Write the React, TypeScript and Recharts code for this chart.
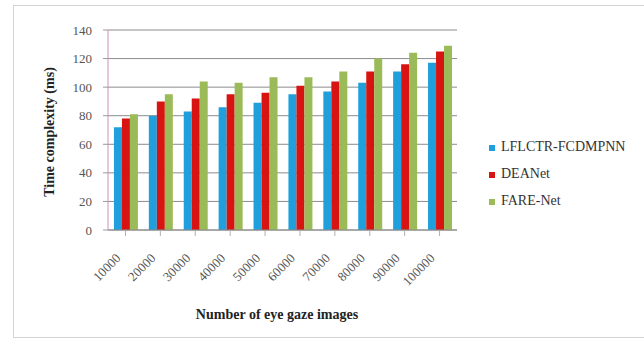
import React from 'react';
import { BarChart, Bar, XAxis, YAxis, CartesianGrid } from 'recharts';

// Number of eye gaze images (categories)
const imageCounts = ['10000', '20000', '30000', '40000', '50000', '60000', '70000', '80000', '90000', '100000'];

// Time complexity (ms) per method
const lflctrFcdmpnn = [72, 80, 83, 86, 89, 95, 97, 103, 111, 117];
const deaNet = [78, 90, 92, 95, 96, 101, 104, 111, 116, 125];
const fareNet = [81, 95, 104, 103, 107, 107, 111, 120, 124, 129];

const yTicks = [0, 20, 40, 60, 80, 100, 120, 140];

const seriesNames = ['LFLCTR-FCDMPNN', 'DEANet', 'FARE-Net'];
const seriesKeys = ['lflctr', 'deanet', 'farenet'];
const seriesColors = ['#1fa0dc', '#d81412', '#9bbb59'];

const data = imageCounts.map((c, i) => ({
  count: c,
  lflctr: lflctrFcdmpnn[i],
  deanet: deaNet[i],
  farenet: fareNet[i],
}));

const SERIF = "'Liberation Serif', 'Times New Roman', serif";

const XTick = (props: any) => {
  const { x, y, payload } = props;
  const ax = x - 4;
  const ay = y + 21;
  return (
    <text
      x={ax}
      y={ay}
      transform={`rotate(-45 ${ax} ${ay})`}
      textAnchor="end"
      style={{ fontFamily: SERIF }}
      fontSize={13}
      fill="#555"
    >
      {payload.value}
    </text>
  );
};

export default function App() {
  return (
    <div style={{ position: 'absolute', left: 0, top: 0, width: 644, height: 343, background: '#fff', overflow: 'hidden', fontFamily: SERIF }}>
      <div
        style={{
          position: 'absolute',
          left: 13,
          top: 5,
          width: 660,
          height: 333,
          border: '1px solid #d4d4d4',
          boxSizing: 'border-box',
        }}
      />
      <div style={{ position: 'absolute', left: 0, top: 0 }}>
        <BarChart
          width={644}
          height={343}
          data={data}
          margin={{ top: 30, right: 187, left: 48, bottom: 53 }}
          barCategoryGap="17%"
          barGap={0}
        >
          <CartesianGrid vertical={false} stroke="#8c8c8c" strokeWidth={1} />
          <XAxis
            dataKey="count"
            height={60}
            interval={0}
            tick={<XTick />}
            tickLine={{ stroke: '#b0b0b0' }}
            axisLine={{ stroke: '#8c8c8c' }}
            label={{
              content: () => (
                <text x={277} y={319} textAnchor="middle" style={{ fontFamily: SERIF }} fontWeight="bold" fontSize={14} fill="#222">
                  Number of eye gaze images
                </text>
              ),
            }}
          />
          <YAxis
            width={60}
            domain={[0, 140]}
            ticks={yTicks}
            interval={0}
            tickSize={5}
            tickMargin={11}
            tick={{ style: { fontFamily: SERIF }, fontSize: 13, fill: '#555' }}
            tickLine={{ stroke: '#9a9a9a' }}
            axisLine={{ stroke: '#cf8fc0' }}
            label={{
              content: () => (
                <text
                  x={51}
                  y={132}
                  transform="rotate(-90 51 132)"
                  textAnchor="middle"
                  dominantBaseline="middle"
                  style={{ fontFamily: SERIF }}
                  fontWeight="bold"
                  fontSize={14}
                  fill="#222"
                >
                  Time complexity (ms)
                </text>
              ),
            }}
          />
          {seriesKeys.map((k, i) => (
            <Bar key={k} dataKey={k} name={seriesNames[i]} fill={seriesColors[i]} isAnimationActive={false} />
          ))}
        </BarChart>
      </div>
      <svg style={{ position: 'absolute', left: 0, top: 0 }} width={644} height={343}>
        {seriesNames.map((n, i) => {
          const cy = [148, 175, 202][i];
          return (
            <g key={n}>
              <rect x={489} y={cy - 3} width={6} height={6} fill={seriesColors[i]} />
              <text x={501} y={cy} dominantBaseline="middle" style={{ fontFamily: SERIF }} fontSize={14} fill="#333">
                {n}
              </text>
            </g>
          );
        })}
      </svg>
    </div>
  );
}
